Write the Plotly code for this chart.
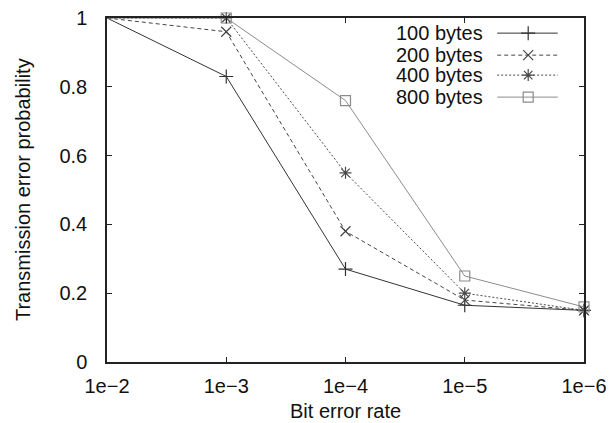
import plotly.graph_objects as go

ber = [1e-2, 1e-3, 1e-4, 1e-5, 1e-6]
tick_labels = ["1e\u22122", "1e\u22123", "1e\u22124", "1e\u22125", "1e\u22126"]
y_ticks = [0, 0.2, 0.4, 0.6, 0.8, 1]
y_tick_labels = ["0", "0.2", "0.4", "0.6", "0.8", "1"]

names = ["100 bytes", "200 bytes", "400 bytes", "800 bytes"]
p100 = [1.0, 0.83, 0.27, 0.165, 0.15]
p200 = [1.0, 0.96, 0.38, 0.18, 0.15]
p400 = [1.0, 1.0, 0.55, 0.20, 0.15]
p800 = [1.0, 1.0, 0.76, 0.25, 0.16]
series = [p100, p200, p400, p800]

colors = ["#333333", "#444444", "#4a4a4a", "#8c8c8c"]
dashes = ["solid", "4px,3px", "2px,2px", "solid"]
symbols = ["cross-thin-open", "x-thin-open", "asterisk-open", "square-open"]
msizes = [10, 10, 10, 10]

FONT = "Liberation Sans, Arial, sans-serif"
FS = 20

fig = go.Figure()
for name, vals, c, d, s, ms in zip(names, series, colors, dashes, symbols, msizes):
    fig.add_trace(go.Scatter(
        x=ber, y=vals, mode="lines+markers", name=name,
        line=dict(color=c, width=1, dash=d),
        marker=dict(symbol=s, size=ms, color=c, line=dict(color=c, width=1.2)),
        cliponaxis=False, showlegend=False,
    ))

# custom legend (text left of sample, gnuplot style) on an overlay axis
leg_y = [0.956, 0.892, 0.834, 0.770]
for name, ly, c, d, s, ms in zip(names, leg_y, colors, dashes, symbols, msizes):
    fig.add_trace(go.Scatter(
        x=[0.818, 0.945], y=[ly, ly], xaxis="x2", yaxis="y2", mode="lines",
        line=dict(color=c, width=1, dash=d), showlegend=False, hoverinfo="skip",
    ))
    fig.add_trace(go.Scatter(
        x=[0.883], y=[ly], xaxis="x2", yaxis="y2", mode="markers",
        marker=dict(symbol=s, size=ms, color=c, line=dict(color=c, width=1.2)),
        showlegend=False, hoverinfo="skip", cliponaxis=False,
    ))
    fig.add_annotation(x=0.793, y=ly, xref="x2", yref="y2", text=name,
                       showarrow=False, xanchor="right", yanchor="middle",
                       font=dict(family=FONT, size=FS, color="#111"))

fig.add_annotation(x=0.5, y=-0.142, xref="paper", yref="paper", text="Bit error rate",
                   showarrow=False, xanchor="center", yanchor="middle",
                   font=dict(family=FONT, size=FS, color="#111"))
fig.add_annotation(x=-0.176, y=0.5, xref="paper", yref="paper",
                   text="Transmission error probability", textangle=-90,
                   showarrow=False, xanchor="center", yanchor="middle",
                   font=dict(family=FONT, size=FS, color="#111"))

axis_common = dict(showline=True, linecolor="#222", linewidth=1.5, mirror="ticks",
                   ticks="inside", ticklen=5, tickcolor="#222", showgrid=False,
                   zeroline=False, automargin=False,
                   tickfont=dict(family=FONT, size=FS, color="#111"))

fig.update_layout(
    width=615, height=423,
    margin=dict(l=107, r=31, t=18, b=61),
    paper_bgcolor="white", plot_bgcolor="white",
    xaxis=dict(type="log", range=[-2, -6], tickvals=ber, ticktext=tick_labels,
               ticklabelstandoff=5, **axis_common),
    yaxis=dict(range=[0, 1], tickvals=y_ticks, ticktext=y_tick_labels,
               ticklabelstandoff=14, **axis_common),
    xaxis2=dict(overlaying="x", range=[0, 1], visible=False),
    yaxis2=dict(overlaying="y", range=[0, 1], visible=False),
    font=dict(family=FONT),
)

fig.write_html("out.html", config={"displayModeBar": False},
               post_script="document.body.style.margin='0px';")
